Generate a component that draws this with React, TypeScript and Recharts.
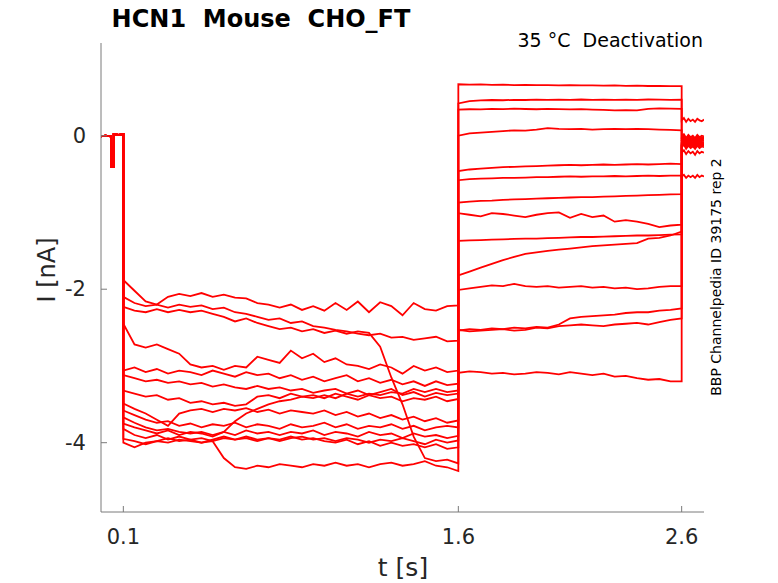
import { LineChart, Line, XAxis, YAxis } from 'recharts';

// time bases (s)
const baseTimes = [0, 0.02, 0.045, 0.046, 0.056, 0.057, 0.08, 0.1];
const holdTimes = [0.1, 0.15, 0.2, 0.25, 0.3, 0.35, 0.4, 0.45, 0.5, 0.55, 0.6, 0.65, 0.7, 0.75, 0.8, 0.85, 0.9, 0.95, 1.0, 1.05, 1.1, 1.15, 1.2, 1.25, 1.3, 1.35, 1.4, 1.45, 1.5, 1.55, 1.6];
const stepTimes = [1.6, 1.65, 1.7, 1.75, 1.8, 1.85, 1.9, 1.95, 2.0, 2.05, 2.1, 2.15, 2.2, 2.25, 2.3, 2.35, 2.4, 2.45, 2.5, 2.55, 2.6];
const tailTimes = [2.6, 2.61, 2.62, 2.63, 2.64, 2.65, 2.66, 2.67, 2.68, 2.69, 2.7];

// pre-pulse baseline (nA), same for every sweep
const baseVals = [-0.01, 0.0, -0.01, -0.41, -0.41, 0.02, 0.01, 0.02];

// hyperpolarizing hold, 0.1 - 1.6 s (nA)
const hold = [
  [-1.88, -2.02, -2.16, -2.2, -2.1, -2.06, -2.09, -2.05, -2.1, -2.07, -2.11, -2.12, -2.18, -2.2, -2.24, -2.2, -2.27, -2.22, -2.28, -2.18, -2.27, -2.16, -2.3, -2.17, -2.22, -2.34, -2.18, -2.26, -2.28, -2.22, -2.21],
  [-2.1, -2.18, -2.22, -2.2, -2.24, -2.2, -2.23, -2.21, -2.26, -2.24, -2.3, -2.32, -2.36, -2.4, -2.38, -2.44, -2.42, -2.48, -2.5, -2.53, -2.55, -2.58, -2.6, -2.58, -2.63, -2.62, -2.66, -2.64, -2.62, -2.68, -2.67],
  [-2.23, -2.28, -2.3, -2.26, -2.3, -2.27, -2.3, -2.28, -2.32, -2.36, -2.42, -2.38, -2.44, -2.48, -2.52, -2.5, -2.55, -2.52, -2.57, -2.54, -2.58, -2.55, -2.57, -2.75, -3.15, -3.5, -3.92, -4.2, -4.24, -4.22, -4.27],
  [-2.45, -2.72, -2.76, -2.72, -2.78, -2.84, -2.98, -3.02, -3.0, -3.05, -3.0, -3.02, -2.88, -2.92, -2.96, -2.8, -2.9, -2.84, -2.95, -2.9, -2.98, -3.0, -3.04, -2.98, -3.02, -3.1, -3.0, -3.06, -3.02, -3.08, -3.06],
  [-3.06, -3.02, -3.08, -3.04, -3.1, -3.06, -3.08, -3.12, -3.06, -3.1, -3.14, -3.08, -3.12, -3.1, -3.16, -3.12, -3.18, -3.14, -3.2, -3.16, -3.12, -3.2, -3.16, -3.22, -3.18, -3.24, -3.2, -3.26, -3.2, -3.25, -3.23],
  [-3.12, -3.16, -3.2, -3.18, -3.22, -3.2, -3.24, -3.22, -3.27, -3.24, -3.28, -3.3, -3.26, -3.3, -3.28, -3.32, -3.3, -3.35, -3.32, -3.3, -3.36, -3.32, -3.38, -3.34, -3.3, -3.38, -3.34, -3.4, -3.35, -3.38, -3.36],
  [-3.32, -3.36, -3.4, -3.38, -3.44, -3.42, -3.48, -3.46, -3.5, -3.48, -3.52, -3.5, -3.4, -3.38, -3.42, -3.36, -3.4, -3.38, -3.42, -3.36, -3.4, -3.44, -3.38, -3.42, -3.4, -3.46, -3.42, -3.44, -3.4, -3.46, -3.43],
  [-3.49, -3.56, -3.62, -3.7, -3.78, -3.62, -3.58, -3.56, -3.6, -3.56, -3.58, -3.55, -3.6, -3.57, -3.62, -3.58, -3.6, -3.62, -3.58, -3.64, -3.6, -3.66, -3.62, -3.68, -3.64, -3.7, -3.66, -3.72, -3.68, -3.74, -3.71],
  [-3.58, -3.64, -3.7, -3.74, -3.72, -3.78, -3.75, -3.8, -3.76, -3.78, -3.74, -3.8, -3.76, -3.78, -3.82, -3.76, -3.8, -3.78, -3.74, -3.8, -3.76, -3.82, -3.78, -3.8, -3.76, -3.82, -3.78, -3.84, -3.8, -3.78, -3.8],
  [-3.67, -3.74, -3.8, -3.84, -3.82, -3.86, -3.88, -3.86, -3.9, -3.86, -3.72, -3.62, -3.56, -3.5, -3.46, -3.44, -3.4, -3.42, -3.38, -3.42, -3.36, -3.4, -3.36, -3.38, -3.34, -3.36, -3.3, -3.34, -3.3, -3.34, -3.32],
  [-3.75, -3.8, -3.84, -3.88, -3.84, -3.9, -3.86, -3.88, -3.92, -3.86, -3.9, -3.84, -3.88, -3.86, -3.9, -3.86, -3.88, -3.84, -3.9, -3.86, -3.88, -3.92, -3.86, -3.9, -3.88, -3.94, -3.88, -3.92, -3.9, -3.94, -3.91],
  [-3.82, -3.9, -3.94, -3.9, -3.96, -3.92, -3.96, -3.94, -3.98, -3.94, -3.96, -3.92, -3.96, -3.94, -3.98, -3.94, -3.92, -3.96, -3.94, -3.98, -3.94, -3.96, -4.0, -3.96, -3.98, -3.94, -3.98, -4.02, -3.96, -4.0, -3.97],
  [-4.0, -4.06, -4.0, -3.98, -4.0, -3.96, -3.98, -4.0, -3.98, -4.2, -4.32, -4.34, -4.3, -4.32, -4.28, -4.3, -4.32, -4.28, -4.3, -4.26, -4.3, -4.28, -4.32, -4.28, -4.26, -4.3, -4.28, -4.24, -4.3, -4.32, -4.37],
  [-3.95, -3.98, -4.02, -3.98, -3.94, -3.98, -3.96, -4.0, -3.96, -3.92, -3.96, -3.94, -3.98, -3.94, -3.96, -3.92, -3.96, -3.94, -3.98, -4.0, -3.96, -4.02, -3.98, -4.04, -4.0, -4.04, -4.02, -4.06, -4.02, -4.08, -4.06],
];

// test step, 1.6 - 2.6 s (nA)
const step = [
  [0.67, 0.665, 0.668, 0.662, 0.665, 0.66, 0.663, 0.658, 0.66, 0.656, 0.659, 0.655, 0.657, 0.652, 0.655, 0.65, 0.653, 0.648, 0.65, 0.646, 0.645],
  [0.42, 0.45, 0.46, 0.465, 0.462, 0.468, 0.465, 0.47, 0.466, 0.47, 0.468, 0.472, 0.468, 0.47, 0.466, 0.47, 0.468, 0.472, 0.47, 0.468, 0.47],
  [0.34, 0.345, 0.342, 0.35, 0.346, 0.352, 0.348, 0.345, 0.35, 0.346, 0.342, 0.346, 0.34, 0.336, 0.33, 0.334, 0.33, 0.35, 0.355, 0.352, 0.35],
  [0.0, 0.03, 0.04, 0.05, 0.06, 0.07, 0.065, 0.08, 0.1, 0.09, 0.085, 0.09, 0.08, 0.085, 0.09, 0.085, 0.09, 0.085, 0.08, 0.075, 0.07],
  [-0.46, -0.44, -0.43, -0.42, -0.41, -0.405, -0.4, -0.395, -0.39, -0.385, -0.38, -0.385, -0.38, -0.375, -0.38, -0.375, -0.37, -0.375, -0.37, -0.365, -0.37],
  [-0.58, -0.565, -0.56, -0.555, -0.55, -0.55, -0.545, -0.54, -0.54, -0.535, -0.53, -0.535, -0.53, -0.53, -0.525, -0.53, -0.525, -0.52, -0.525, -0.52, -0.52],
  [-0.87, -0.86, -0.85, -0.845, -0.835, -0.83, -0.825, -0.82, -0.815, -0.81, -0.805, -0.8, -0.8, -0.795, -0.79, -0.785, -0.78, -0.775, -0.77, -0.765, -0.76],
  [-1.01, -1.03, -1.05, -1.01, -1.02, -1.04, -1.06, -1.03, -1.01, -1.0, -1.07, -1.02, -1.06, -1.04, -1.12, -1.1, -1.12, -1.15, -1.19, -1.17, -1.16],
  [-1.37, -1.365, -1.36, -1.355, -1.35, -1.345, -1.34, -1.34, -1.335, -1.33, -1.325, -1.32, -1.32, -1.315, -1.31, -1.305, -1.3, -1.3, -1.295, -1.29, -1.285],
  [-1.82, -1.77, -1.72, -1.67, -1.62, -1.58, -1.54, -1.52, -1.5, -1.485, -1.47, -1.455, -1.44, -1.43, -1.42, -1.41, -1.4, -1.34, -1.33, -1.3, -1.25],
  [-2.01, -1.99, -1.97, -1.95, -1.96, -1.93, -1.96, -1.97, -1.96, -1.98, -1.97, -1.96, -1.98, -1.97, -1.99, -1.98, -2.0, -1.99, -1.97, -1.96, -1.96],
  [-2.54, -2.52, -2.53, -2.51, -2.52, -2.5, -2.51, -2.49, -2.5, -2.46, -2.38, -2.36, -2.35, -2.34, -2.33, -2.31, -2.3, -2.3, -2.28, -2.27, -2.25],
  [-2.53, -2.55, -2.54, -2.53, -2.52, -2.54, -2.53, -2.5, -2.51, -2.48, -2.47, -2.46, -2.47, -2.48, -2.46, -2.45, -2.44, -2.46, -2.43, -2.4, -2.38],
  [-3.09, -3.07, -3.08, -3.1, -3.09, -3.11, -3.1, -3.08, -3.09, -3.11, -3.08, -3.1, -3.12, -3.1, -3.14, -3.13, -3.16, -3.18, -3.17, -3.2, -3.2],
];

// tail after the step, 2.6 - 2.7 s (nA)
const tail = [
  [0.2, 0.23, 0.18, 0.22, 0.19, 0.21, 0.18, 0.22, 0.2, 0.19, 0.21],
  [-0.01, 0.02, -0.03, 0.01, -0.02, 0.0, -0.03, 0.01, -0.02, 0.0, -0.01],
  [-0.04, -0.01, -0.06, -0.02, -0.05, -0.03, -0.07, -0.02, -0.05, -0.03, -0.04],
  [-0.07, -0.04, -0.09, -0.05, -0.08, -0.06, -0.1, -0.05, -0.08, -0.06, -0.07],
  [-0.09, -0.06, -0.11, -0.07, -0.1, -0.08, -0.12, -0.07, -0.1, -0.08, -0.09],
  [-0.53, -0.51, -0.55, -0.52, -0.54, -0.52, -0.55, -0.51, -0.54, -0.52, -0.53],
  [-0.11, -0.08, -0.13, -0.09, -0.12, -0.1, -0.14, -0.09, -0.12, -0.1, -0.11],
  [-0.13, -0.1, -0.15, -0.11, -0.14, -0.12, -0.16, -0.11, -0.14, -0.12, -0.13],
  [-0.15, -0.12, -0.17, -0.13, -0.16, -0.14, -0.17, -0.13, -0.16, -0.14, -0.15],
  [-0.22, -0.19, -0.24, -0.2, -0.23, -0.21, -0.25, -0.2, -0.23, -0.21, -0.22],
  [-0.03, 0.0, -0.05, -0.01, -0.04, -0.02, -0.05, -0.01, -0.04, -0.02, -0.03],
  [-0.06, -0.03, -0.08, -0.04, -0.07, -0.05, -0.09, -0.04, -0.07, -0.05, -0.06],
  [-0.1, -0.07, -0.12, -0.08, -0.11, -0.09, -0.13, -0.08, -0.11, -0.09, -0.1],
  [-0.12, -0.09, -0.14, -0.1, -0.13, -0.11, -0.15, -0.1, -0.13, -0.11, -0.12],
];

const xTicks = [0.1, 1.6, 2.6];
const yTicks = [-4, -2, 0];

const AXIS = '#7a7a7a';
const TXT = '#262626';
const FONT = '"DejaVu Sans", sans-serif';

const pts = (ts: number[], vs: number[]) => ts.map((t, i) => ({ t, v: vs[i] }));

const sweeps = hold.map((h, i) => [
  ...pts(baseTimes, baseVals),
  ...pts(holdTimes, h),
  ...pts(stepTimes, step[i]),
  ...pts(tailTimes, tail[i]),
]);

const XTick = (props: any) => {
  const { x, y, payload } = props;
  return (
    <g>
      <line x1={x} x2={x} y1={y} y2={y - 6} stroke={AXIS} />
      <text x={x} y={y + 32} textAnchor="middle" fill={TXT} fontSize={21} fontFamily={FONT}>{payload.value}</text>
    </g>
  );
};

const YTick = (props: any) => {
  const { x, y, payload } = props;
  return (
    <g>
      <line x1={x} x2={x + 6} y1={y} y2={y} stroke={AXIS} />
      <text x={x - 15} y={y + 7} textAnchor="end" fill={TXT} fontSize={21} fontFamily={FONT}>{payload.value}</text>
    </g>
  );
};

export default function App() {
  return (
    <div style={{ position: 'absolute', left: 0, top: 0, width: 778, height: 583, background: '#fff' }}>
      <LineChart width={778} height={583} margin={{ top: 43, right: 74, bottom: 0, left: 0 }}>
        <XAxis dataKey="t" type="number" domain={[0, 2.7]} allowDataOverflow ticks={xTicks}
          height={71} tickSize={0} tickMargin={0} tick={XTick} axisLine={{ stroke: AXIS }} tickLine={false} />
        <YAxis type="number" domain={[-4.903, 1.208]} allowDataOverflow ticks={yTicks}
          width={101} tickSize={0} tickMargin={0} tick={YTick} axisLine={{ stroke: AXIS }} tickLine={false} />
        {sweeps.map((d, i) => (
          <Line key={i} data={d} dataKey="v" type="linear" stroke="#ff0000" strokeWidth={1.8}
            dot={false} isAnimationActive={false} />
        ))}
      </LineChart>
      <svg width={778} height={583} style={{ position: 'absolute', left: 0, top: 0, pointerEvents: 'none' }}>
        <text x={261} y={27} textAnchor="middle" fontSize={24} fontWeight="bold" fontFamily={FONT} fill="#000" style={{ whiteSpace: 'pre' }}>HCN1  Mouse  CHO_FT</text>
        <text x={703} y={47} textAnchor="end" fontSize={19} fontFamily={FONT} fill="#000" style={{ whiteSpace: 'pre' }}>35 °C  Deactivation</text>
        <text x={403} y={576} textAnchor="middle" fontSize={25} fontFamily={FONT} fill={TXT}>t [s]</text>
        <text transform="translate(55,270) rotate(-90)" textAnchor="middle" fontSize={24} fontFamily={FONT} fill={TXT}>I [nA]</text>
        <text transform="translate(721,277) rotate(-90)" textAnchor="middle" fontSize={14} fontFamily={FONT} fill="#000">BBP Channelpedia ID 39175 rep 2</text>
      </svg>
    </div>
  );
}
